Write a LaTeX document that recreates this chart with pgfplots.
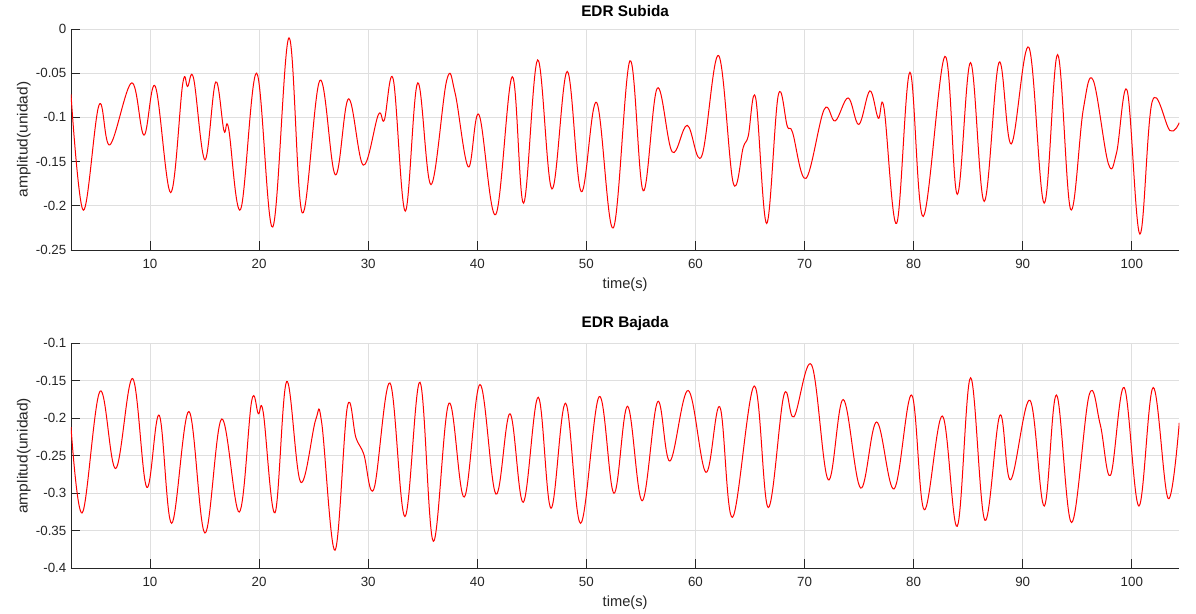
\documentclass[border=0pt]{standalone}
\usepackage{fontspec}
\setmainfont{Liberation Sans}
\usepackage{pgfplots}
\usepackage{graphicx}
\pgfplotsset{compat=1.18}

\definecolor{axc}{RGB}{38,38,38}
\definecolor{gridc}{RGB}{223,223,223}

\pgfplotsset{edr/.style={
  scale only axis, width=831.2pt,
  xmin=2.76, xmax=104.35,
  axis x line*=bottom, axis y line*=left,
  axis line style={-, axc, line width=0.6pt},
  grid=major, grid style={gridc, line width=0.6pt},
  tick style={axc, line width=0.6pt},
  tick align=inside, major tick length=7pt,
  xtick={10,20,...,100},
  ticklabel style={font=\fontsize{10}{12}\selectfont, text=axc},
  xticklabel style={yshift=-3pt},
  xlabel={time(s)}, ylabel={\scalebox{1.06}[1]{amplitud(unidad)}},
  label style={font=\fontsize{11}{13}\selectfont, text=axc},
  xlabel style={yshift=-0.5pt},
  ylabel style={yshift=-3pt},
  title style={font=\fontsize{11.5}{13}\selectfont\bfseries},
  /pgf/number format/assume math mode=true,
  every axis plot post/.append style={red, line width=0.75pt, smooth, tension=0.62, mark=none},
}}

\begin{document}
\begin{tikzpicture}
\useasboundingbox (0,0) rectangle (897pt,460.5pt);
\begin{axis}[edr, at={(53.25pt,273pt)}, anchor=south west, height=165.75pt,
  ymin=-0.25, ymax=0, ytick={-0.25,-0.2,-0.15,-0.1,-0.05,0},
  yticklabels={-0.25,-0.2,-0.15,-0.1,-0.05,0},
  title={EDR Subida}]
\addplot coordinates {
(2.76,-0.074) (3.89,-0.205) (5.33,-0.086) (6.33,-0.131) (8.32,-0.061)
(9.45,-0.120) (10.49,-0.065) (11.90,-0.185) (13.0,-0.062) (13.45,-0.065)
(14.0,-0.056) (15.04,-0.148) (16.02,-0.060) (16.78,-0.115) (17.2,-0.112)
(18.31,-0.204) (19.78,-0.050) (21.25,-0.224) (22.74,-0.010) (23.96,-0.208)
(25.58,-0.058) (26.99,-0.165) (28.2,-0.079) (29.55,-0.154) (30.93,-0.097)
(31.48,-0.103) (32.3,-0.057) (33.4,-0.206) (34.54,-0.061) (35.76,-0.176)
(37.2,-0.058) (37.96,-0.072) (39.18,-0.156) (40.16,-0.097) (41.69,-0.210)
(43.21,-0.054) (44.25,-0.197) (45.54,-0.035) (46.85,-0.181) (48.25,-0.048)
(49.53,-0.184) (50.94,-0.083) (52.47,-0.225) (54.0,-0.036) (55.21,-0.183)
(56.5,-0.067) (57.87,-0.139) (59.25,-0.109) (60.57,-0.144) (62.12,-0.030)
(63.46,-0.174) (64.38,-0.134) (64.84,-0.121) (65.52,-0.078) (66.53,-0.220)
(67.59,-0.075) (68.42,-0.110) (68.9,-0.117) (70.13,-0.169) (71.8,-0.091)
(72.81,-0.104) (74.0,-0.078) (74.98,-0.108) (75.99,-0.070) (76.76,-0.101)
(77.28,-0.089) (78.44,-0.220) (79.66,-0.049) (80.88,-0.212) (82.87,-0.031)
(84.0,-0.187) (85.22,-0.038) (86.47,-0.195) (87.82,-0.038) (88.95,-0.130)
(90.57,-0.021) (91.97,-0.197) (93.2,-0.029) (94.39,-0.204) (95.55,-0.091)
(96.46,-0.058) (97.84,-0.152) (98.6,-0.140) (99.58,-0.070) (100.74,-0.232)
(101.87,-0.082) (103.5,-0.115) (104.35,-0.106)
};
\end{axis}
\begin{axis}[edr, at={(53.25pt,34.3pt)}, anchor=south west, height=168.75pt,
  ymin=-0.4, ymax=-0.1, ytick={-0.4,-0.35,-0.3,-0.25,-0.2,-0.15,-0.1},
  yticklabels={-0.4,-0.35,-0.3,-0.25,-0.2,-0.15,-0.1},
  title={EDR Bajada}]
\addplot coordinates {
(2.76,-0.212) (3.80,-0.326) (5.42,-0.164) (6.86,-0.267) (8.41,-0.147)
(9.70,-0.292) (10.85,-0.196) (11.99,-0.340) (13.57,-0.191) (15.04,-0.353)
(16.57,-0.201) (18.19,-0.325) (19.32,-0.177) (19.93,-0.194) (20.38,-0.192)
(21.46,-0.326) (22.53,-0.151) (23.81,-0.285) (25.19,-0.202) (25.74,-0.206)
(26.96,-0.376) (28.09,-0.185) (28.88,-0.226) (29.6,-0.248) (30.53,-0.294)
(32.0,-0.153) (33.37,-0.331) (34.75,-0.152) (35.97,-0.364) (37.4,-0.180)
(38.81,-0.305) (40.25,-0.155) (41.71,-0.301) (43.0,-0.194) (44.22,-0.312)
(45.59,-0.172) (46.76,-0.320) (48.1,-0.180) (49.48,-0.340) (51.18,-0.171)
(52.53,-0.300) (53.78,-0.184) (55.12,-0.310) (56.53,-0.178) (57.66,-0.257)
(59.34,-0.163) (60.96,-0.272) (62.24,-0.185) (63.4,-0.332) (65.39,-0.157)
(66.67,-0.319) (68.11,-0.169) (69.03,-0.198) (70.65,-0.129) (72.17,-0.282)
(73.55,-0.175) (75.14,-0.293) (76.61,-0.205) (78.22,-0.294) (79.82,-0.169)
(80.97,-0.322) (82.64,-0.197) (84.0,-0.344) (85.22,-0.146) (86.53,-0.336)
(87.91,-0.196) (88.89,-0.282) (90.66,-0.176) (91.97,-0.317) (93.1,-0.169)
(94.48,-0.339) (96.09,-0.169) (97.1,-0.208) (98.05,-0.276) (99.3,-0.159)
(100.65,-0.317) (101.96,-0.159) (103.33,-0.307) (104.35,-0.206)
};
\end{axis}
\end{tikzpicture}
\end{document}
